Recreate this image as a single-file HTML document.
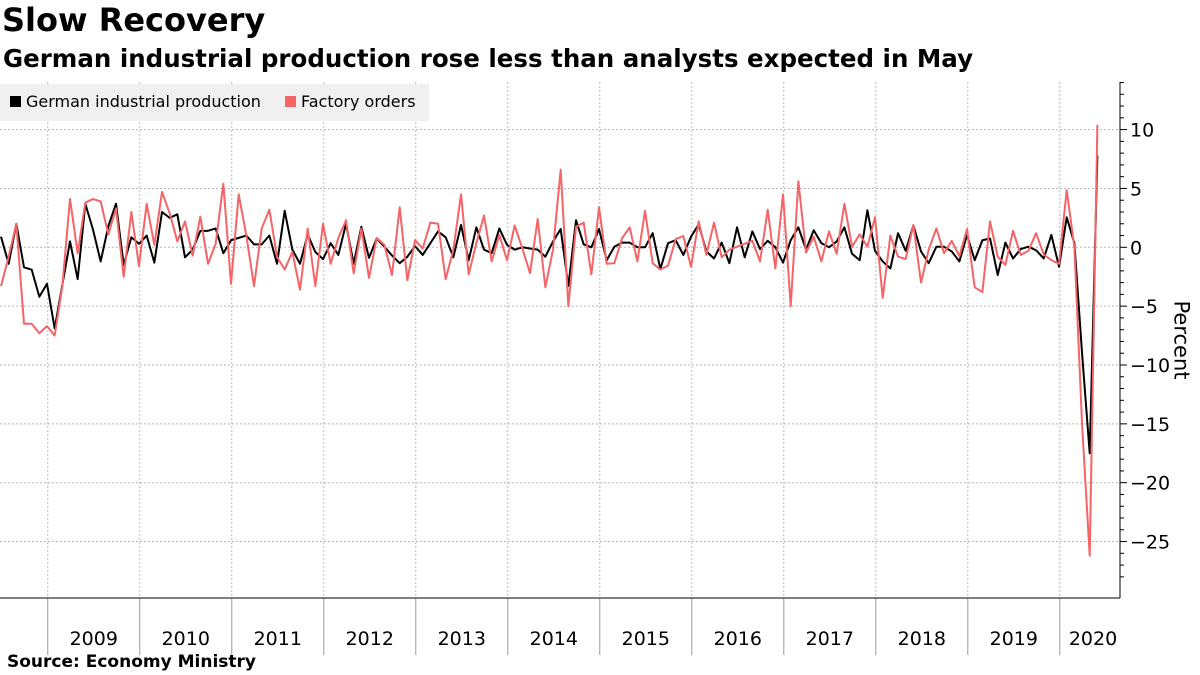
<!DOCTYPE html>
<html><head><meta charset="utf-8"><style>
body{margin:0;background:#fff;font-family:"Liberation Sans",sans-serif;}
#wrap{position:relative;width:1200px;height:675px;overflow:hidden;}
.t{position:absolute;white-space:nowrap;color:#000;}
</style></head><body>
<div id="wrap">
<div class="t" style="left:2px;top:1px;font-size:32px;font-weight:bold;font-family:'DejaVu Sans',sans-serif;">Slow Recovery</div>
<div class="t" style="left:3px;top:44px;font-size:24.5px;font-weight:bold;font-family:'DejaVu Sans',sans-serif;letter-spacing:0px">German industrial production rose less than analysts expected in May</div>
<div class="t" style="left:7px;top:652px;font-size:17px;font-weight:bold;font-family:'DejaVu Sans',sans-serif;">Source: Economy Ministry</div>
<svg id="chart" width="1200" height="675" style="position:absolute;left:0;top:0"></svg>
<div style="position:absolute;left:0;top:84px;width:429px;height:37px;background:#f0f0f0;font-size:17px;">
<span style="position:absolute;left:10px;top:12px;width:11px;height:11px;background:#000"></span>
<span class="t" style="left:26px;top:8px;font-family:'DejaVu Sans',sans-serif;font-size:16px">German industrial production</span>
<span style="position:absolute;left:285px;top:12px;width:11px;height:11px;background:#f56467"></span>
<span class="t" style="left:301px;top:8px;font-family:'DejaVu Sans',sans-serif;font-size:16px">Factory orders</span>
</div>
<div class="t" style="left:1142px;top:328px;font-size:21px;transform:rotate(90deg);transform-origin:center;font-family:'DejaVu Sans',sans-serif;">Percent</div>
</div>
<script>
const production=[0.9,-1.4,2.0,-1.7,-1.9,-4.2,-3.1,-6.9,-3.2,0.5,-2.7,3.7,1.5,-1.2,1.8,3.7,-1.5,0.85,0.3,1.0,-1.3,3.0,2.5,2.8,-0.85,-0.2,1.4,1.4,1.6,-0.5,0.6,0.8,1.0,0.25,0.25,1.0,-1.4,3.1,-0.2,-1.4,1.1,-0.4,-1.0,0.35,-0.65,2.0,-1.4,1.75,-0.9,0.75,0.05,-0.7,-1.35,-0.8,0.1,-0.65,0.35,1.35,0.85,-0.85,1.9,-1.1,1.7,-0.2,-0.5,1.6,0.2,-0.2,0,-0.1,-0.2,-0.8,0.5,1.55,-3.3,2.3,0.25,0,1.55,-1.1,0.05,0.4,0.4,0,0,1.2,-1.85,0.35,0.6,-0.65,0.9,1.95,-0.35,-0.95,0.4,-1.35,1.7,-0.85,1.35,-0.15,0.55,0,-1.3,0.6,1.7,-0.2,1.45,0.35,0,0.5,1.7,-0.55,-1.1,3.15,-0.3,-1.2,-1.8,1.2,-0.3,1.85,-0.35,-1.35,0.05,0.05,-0.35,-1.2,1.05,-1.1,0.6,0.75,-2.35,0.4,-0.95,-0.15,0.05,-0.25,-0.95,1.05,-1.65,2.55,0.35,-9.0,-17.5,7.8];
const orders=[-3.3,-0.8,2.0,-6.5,-6.5,-7.3,-6.7,-7.5,-3.3,4.1,-0.5,3.8,4.1,3.9,1.1,3.3,-2.5,3.0,-1.6,3.7,0.2,4.7,2.9,0.5,2.2,-0.7,2.6,-1.4,0.3,5.4,-3.1,4.5,1.0,-3.3,1.6,3.2,-0.8,-1.9,-0.4,-3.6,1.6,-3.3,2.0,-1.4,0.8,2.3,-2.2,1.6,-2.6,0.8,0.2,-2.35,3.4,-2.8,0.6,-0.1,2.1,2.0,-2.7,-0.2,4.5,-2.3,0.35,2.7,-1.2,1.05,-1.1,1.85,-0.1,-2.2,2.4,-3.4,-0.2,6.6,-5.0,1.75,2.1,-2.3,3.4,-1.4,-1.35,0.75,1.7,-1.2,3.1,-1.35,-1.9,-1.55,0.7,0.95,-1.65,2.2,-0.65,2.1,-0.85,-0.2,0.05,0.3,0.55,-1.2,3.2,-1.8,4.5,-5.0,5.6,-0.45,0.9,-1.2,1.35,-0.55,3.7,0.05,1.1,0.05,2.55,-4.3,1.0,-0.8,-1.0,1.9,-3.0,-0.2,1.6,-0.5,0.55,-0.75,1.55,-3.4,-3.8,2.2,-0.8,-1.5,1.4,-0.65,-0.3,1.2,-0.6,-1.1,-1.4,4.85,0.0,-15.0,-26.2,10.4];
const yTicks=[10,5,0,-5,-10,-15,-20,-25];
const years=["2009","2010","2011","2012","2013","2014","2015","2016","2017","2018","2019","2020"];
const NS="http://www.w3.org/2000/svg";
const svg=document.getElementById('chart');
const X0=0,X1=1120,Y0=82,Y1=598;
function x(i){return 1+i*7.667;}
function y(v){return 247.3-v*11.77;}
function mk(t,a){const e=document.createElementNS(NS,t);for(const k in a)e.setAttribute(k,a[k]);svg.appendChild(e);return e;}
yTicks.forEach(v=>{
 const g=mk('line',{x1:X0,x2:X1,y1:y(v),y2:y(v),stroke:'#b8b8b8','stroke-dasharray':'2,2','stroke-width':1});
 
 
 const tk=mk('line',{x1:X1,x2:X1+7,y1:y(v),y2:y(v),stroke:'#000'});
 
 
 const t=mk('text',{x:X1+10,y:y(v)+7,'font-size':19,'font-family':'DejaVu Sans, sans-serif',fill:'#000'});
 t.textContent=v<0?'\u2212'+Math.abs(v):String(v);
 
 
});
for(let v=-28;v<=14;v++){if(v%5===0)continue;const m=mk('line',{x1:X1,x2:X1+4,y1:y(v),y2:y(v),stroke:'#000'});
 
 }
years.forEach((yr,k)=>{
 const bi=6+12*k+0.1;const bx=x(bi);
 const g=mk('line',{x1:bx,x2:bx,y1:Y0,y2:Y1,stroke:'#b8b8b8','stroke-dasharray':'2,2'});
 
 
 const s=mk('line',{x1:bx,x2:bx,y1:Y1,y2:655,stroke:'#999'});
 
 
 const cx=Math.min(x(bi+6),1093);
 const t=mk('text',{x:cx,y:645,'font-size':19,'text-anchor':'middle','font-family':'DejaVu Sans, sans-serif',fill:'#000'});
 t.textContent=yr;
 
 
});
const ax=mk('line',{x1:X1,x2:X1,y1:Y0,y2:Y1,stroke:'#000'});


const bx=mk('line',{x1:0,x2:X1,y1:Y1,y2:Y1,stroke:'#000'});


function line(arr,color,name,w){
 const p=mk('polyline',{points:arr.map((v,i)=>x(i)+','+y(v)).join(' '),fill:'none',stroke:color,'stroke-width':w,'stroke-linejoin':'round'});
 
 
}
line(production,'#000','production-line',2);
line(orders,'#f56467','orders-line',2);
</script>
</body></html>
